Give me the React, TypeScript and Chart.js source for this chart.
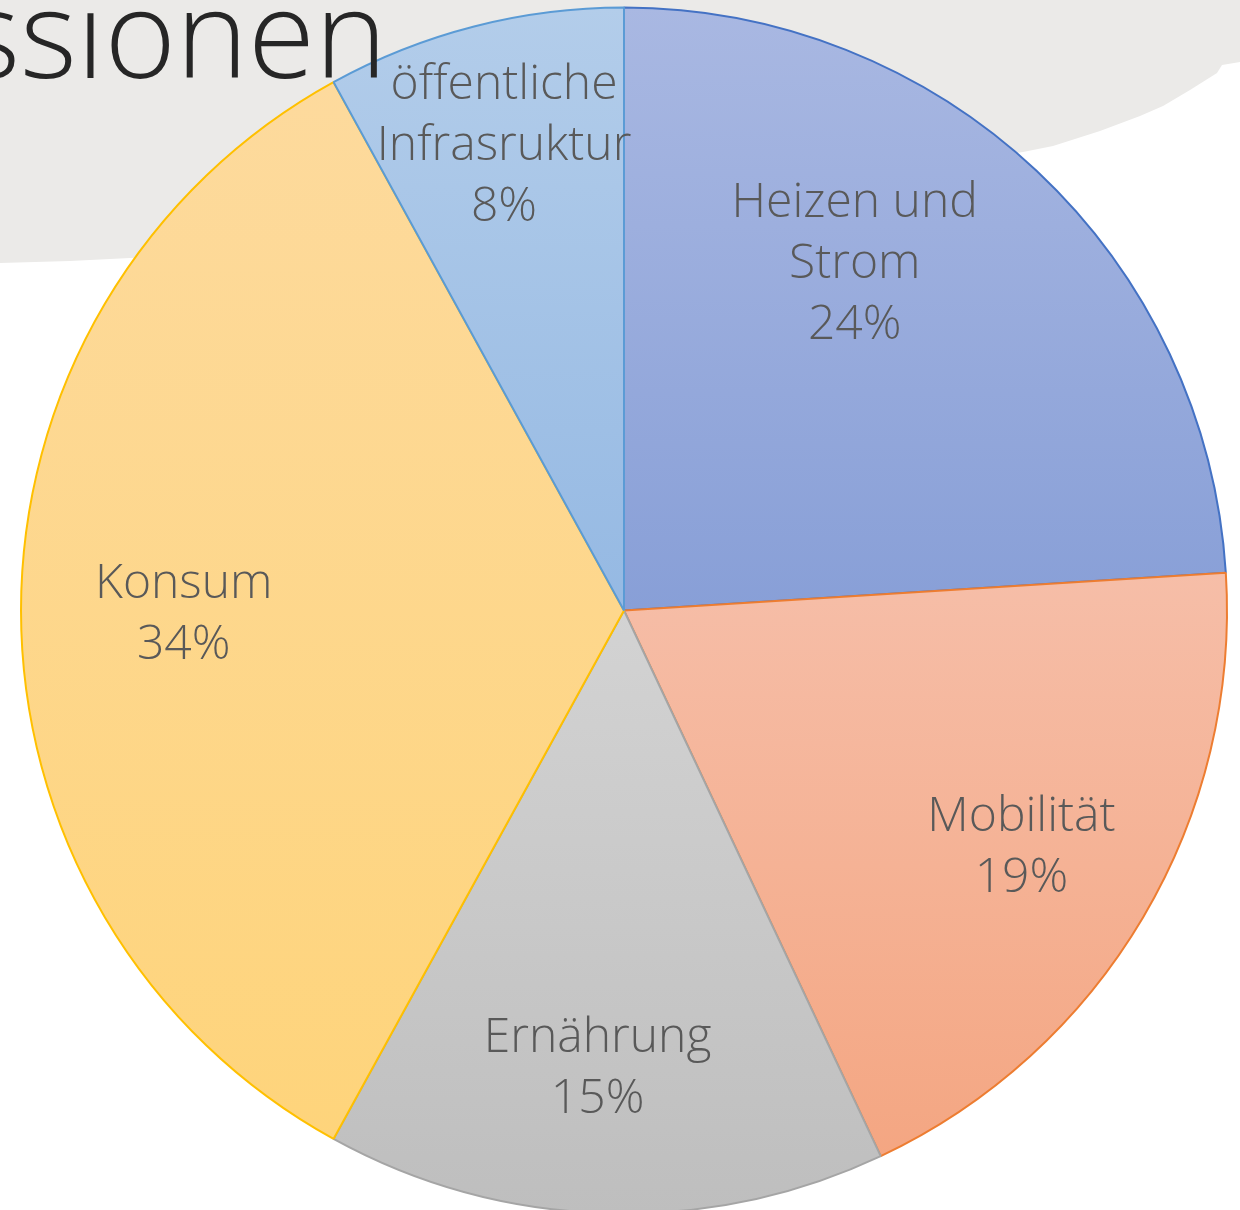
import React, { useEffect, useRef } from "react";
import { Chart, registerables } from "chart.js";

Chart.register(...registerables);

const categories = ["Heizen und Strom", "Mobilität", "Ernährung", "Konsum", "öffentliche Infrasruktur"];
const values = [24, 19, 15, 34, 8];
const labelLines = [
  ["Heizen und", "Strom", "24%"],
  ["Mobilität", "19%"],
  ["Ernährung", "15%"],
  ["Konsum", "34%"],
  ["öffentliche", "Infrasruktur", "8%"],
];
const titleText = "ssionen";

const gradientTop = ["#A9B8E2", "#F6BEA8", "#D3D3D3", "#FDDA9D", "#B3CDEA"];
const gradientBottom = ["#889FD7", "#F4A682", "#BEBEBE", "#FED47B", "#95B9E3"];
const borderColors = ["#4472C4", "#ED7D31", "#A5A5A5", "#FFC000", "#5B9BD5"];

const FONT = "'Open Sans', 'Segoe UI', 'DejaVu Sans', sans-serif";

function sliceYRange(index: number, cy: number, r: number) {
  const total = values.reduce((a, b) => a + b, 0);
  let start = 0;
  for (let i = 0; i < index; i++) start += values[i];
  const a0 = -Math.PI / 2 + (start / total) * Math.PI * 2;
  const a1 = a0 + (values[index] / total) * Math.PI * 2;
  const ys = [cy, cy + r * Math.sin(a0), cy + r * Math.sin(a1)];
  for (let k = -2; k <= 4; k++) {
    const a = Math.PI / 2 + k * Math.PI;
    if (a > a0 && a < a1) ys.push(cy + r * Math.sin(a));
  }
  return [Math.min(...ys), Math.max(...ys)];
}

const backgroundPlugin = {
  id: "paperBackground",
  beforeDraw(chart: any) {
    const ctx = chart.ctx;
    ctx.save();
    ctx.fillStyle = "#FFFFFF";
    ctx.fillRect(0, 0, chart.width, chart.height);
    ctx.fillStyle = "#EBEAE8";
    ctx.beginPath();
    ctx.moveTo(0, 0);
    ctx.lineTo(1240, 0);
    ctx.lineTo(1240, 62);
    ctx.lineTo(1222, 65);
    ctx.lineTo(1217, 73);
    ctx.lineTo(1190, 90);
    ctx.lineTo(1163, 106);
    ctx.lineTo(1140, 116);
    ctx.lineTo(1100, 131);
    ctx.lineTo(1053, 146);
    ctx.lineTo(1023, 152);
    ctx.lineTo(700, 200);
    ctx.lineTo(300, 250);
    ctx.lineTo(130, 258);
    ctx.lineTo(70, 261);
    ctx.lineTo(0, 263);
    ctx.closePath();
    ctx.fill();
    ctx.restore();
  },
};

// Small placement tweaks (Office "best fit" label positions)
const labelNudge: Record<number, [number, number]> = {
  0: [-83, -12],
  1: [3, 4],
  2: [-12, 0],
  3: [18, 4],
  4: [-6, -20],
};

const labelsPlugin = {
  id: "sliceLabels",
  afterDraw(chart: any) {
    const ctx = chart.ctx;
    const meta = chart.getDatasetMeta(0);
    ctx.save();
    ctx.fillStyle = "#262626";
    ctx.font = `300 122px ${FONT}`;
    ctx.textAlign = "right";
    ctx.textBaseline = "alphabetic";
    ctx.fillText(titleText, 387, 78);

    ctx.fillStyle = "#595959";
    ctx.font = `300 48px ${FONT}`;
    ctx.textAlign = "center";
    ctx.textBaseline = "middle";
    const lineH = 61;
    meta.data.forEach((arc: any, i: number) => {
      const { x, y, startAngle, endAngle, outerRadius } = arc.getProps(
        ["x", "y", "startAngle", "endAngle", "outerRadius"],
        true
      );
      const mid = (startAngle + endAngle) / 2;
      const rr = outerRadius * 0.76;
      const nudge = labelNudge[i] || [0, 0];
      const lx = x + Math.cos(mid) * rr + nudge[0];
      const ly = y + Math.sin(mid) * rr + nudge[1];
      const lines = labelLines[i];
      const top = ly - ((lines.length - 1) * lineH) / 2;
      lines.forEach((t, j) => ctx.fillText(t, lx, top + j * lineH));
    });
    ctx.restore();
  },
};

export default function App() {
  const canvasRef = useRef<HTMLCanvasElement | null>(null);

  useEffect(() => {
    if (!canvasRef.current) return;
    const chart = new Chart(canvasRef.current, {
      type: "pie",
      data: {
        labels: categories,
        datasets: [
          {
            data: values,
            backgroundColor: (context: any) => {
              const c = context.chart;
              const area = c.chartArea;
              const i = context.dataIndex;
              if (!area || i === undefined) return gradientTop[i ?? 0];
              const cy = (area.top + area.bottom) / 2;
              const r = Math.min(area.right - area.left, area.bottom - area.top) / 2;
              const [y0, y1] = sliceYRange(i, cy, r);
              const g = c.ctx.createLinearGradient(0, y0, 0, y1);
              g.addColorStop(0, gradientTop[i]);
              g.addColorStop(1, gradientBottom[i]);
              return g;
            },
            borderColor: borderColors,
            borderWidth: 2,
          },
        ],
      },
      options: {
        responsive: false,
        animation: false,
        layout: { padding: { left: 20, right: 12, top: 5, bottom: 0 } },
        plugins: {
          legend: { display: false },
          tooltip: { enabled: false },
          title: { display: false },
        },
      },
      plugins: [backgroundPlugin, labelsPlugin],
    });
    return () => chart.destroy();
  }, []);

  return (
    <div style={{ position: "absolute", left: 0, top: 0, width: 1240, height: 1210, overflow: "hidden" }}>
      <canvas ref={canvasRef} width={1240} height={1216} style={{ display: "block" }} />
    </div>
  );
}
